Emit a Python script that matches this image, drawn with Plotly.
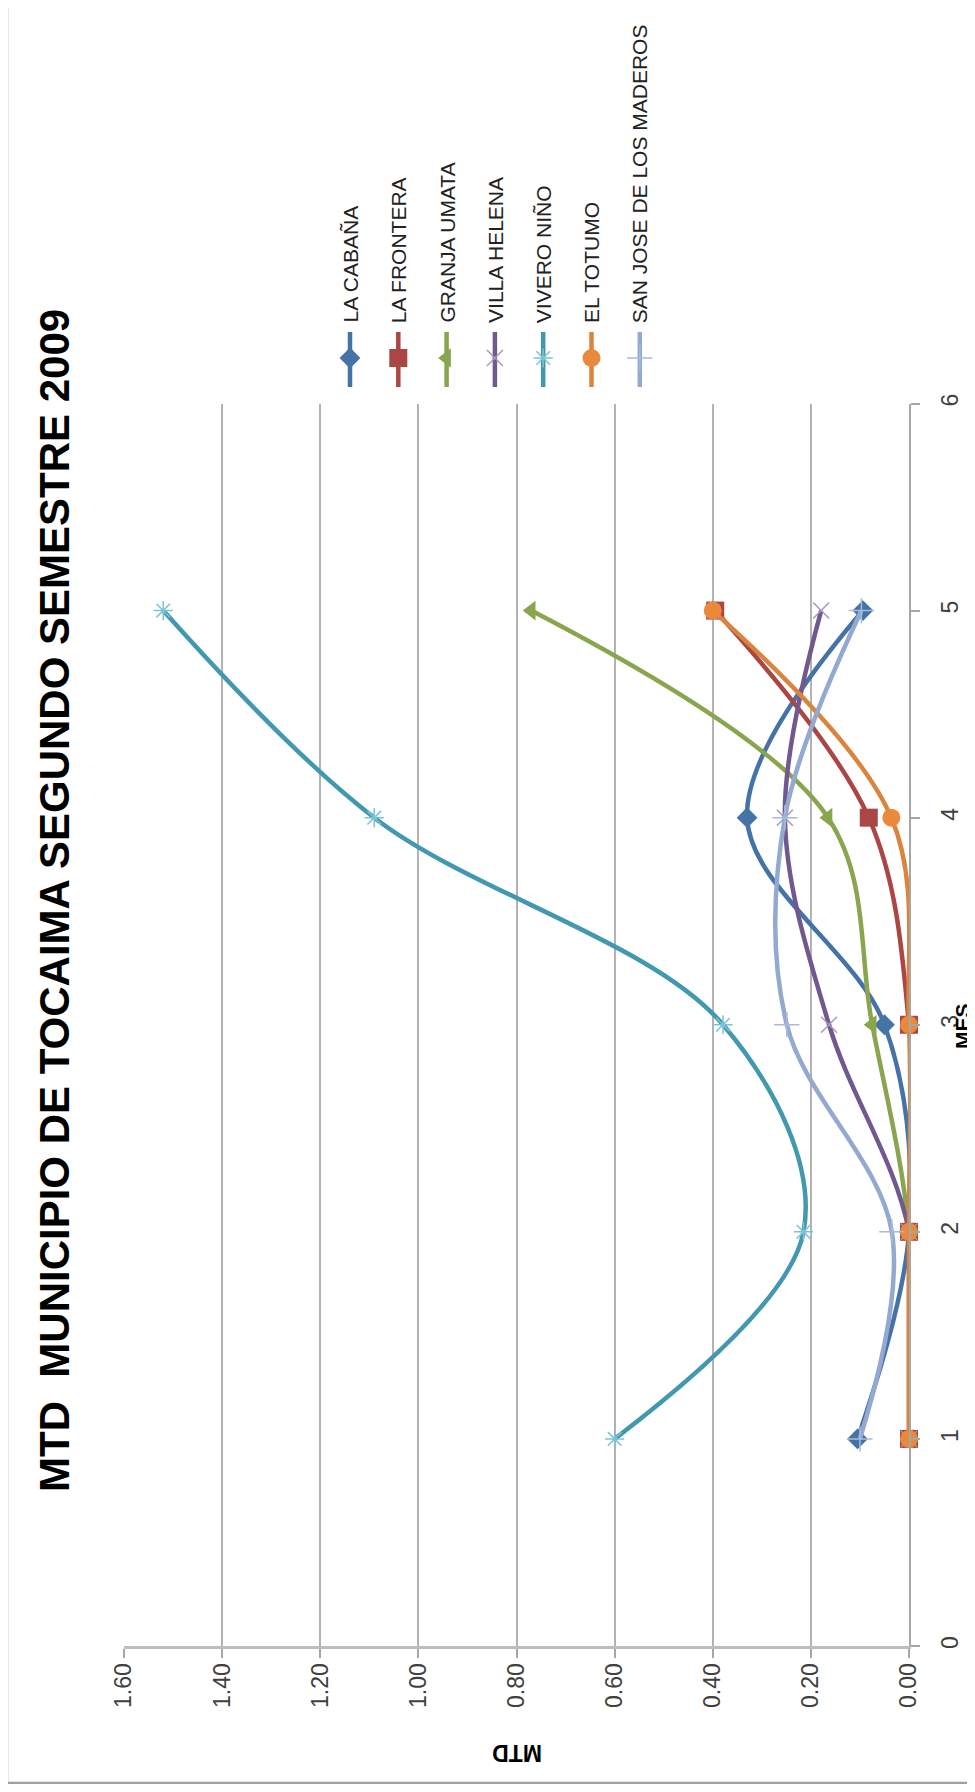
import plotly.graph_objects as go

# ---------------- data ----------------
MES = [1, 2, 3, 4, 5]
SERIES = ["LA CABAÑA", "LA FRONTERA", "GRANJA UMATA", "VILLA HELENA",
          "VIVERO NIÑO", "EL TOTUMO", "SAN JOSE DE LOS MADEROS"]
LA_CABANA = [0.105, 0.0, 0.05, 0.33, 0.094]
LA_FRONTERA = [0.0, 0.0, 0.0, 0.082, 0.395]
GRANJA_UMATA = [0.0, 0.0, 0.075, 0.165, 0.77]
VILLA_HELENA = [0.0, 0.0, 0.163, 0.253, 0.179]
VIVERO_NINO = [0.60, 0.215, 0.379, 1.09, 1.52]
EL_TOTUMO = [0.0, 0.0, 0.0, 0.036, 0.40]
SAN_JOSE = [0.10, 0.035, 0.249, 0.253, 0.097]
VALUES = [LA_CABANA, LA_FRONTERA, GRANJA_UMATA, VILLA_HELENA, VIVERO_NINO, EL_TOTUMO, SAN_JOSE]
MTD_TICKS = [0.0, 0.2, 0.4, 0.6, 0.8, 1.0, 1.2, 1.4, 1.6]
MES_TICKS = [0, 1, 2, 3, 4, 5, 6]
TITLE = "MTD  MUNICIPIO DE TOCAIMA SEGUNDO SEMESTRE 2009"

# ---------------- styles ----------------
LINE_COLORS = ["#4572A7", "#AA4643", "#89A54E", "#71588F", "#4198AF", "#DB843D", "#93A9CF"]
MARKERS = [
    dict(symbol="diamond", size=16, color="#4572A7"),
    dict(symbol="square", size=18, color="#AA4643"),
    dict(symbol="triangle-left", size=17, color="#89A54E"),
    dict(symbol="x-thin-open", size=16, color="#A897C4", line=dict(width=1.5, color="#A897C4")),
    dict(symbol="asterisk-open", size=16, color="#7CC3D6", line=dict(width=1.5, color="#7CC3D6")),
    dict(symbol="circle", size=18, color="#E8893C"),
    dict(symbol="cross-thin-open", size=18, color="#A6BADB", line=dict(width=1.5, color="#A6BADB")),
]

# page geometry (the page body has an 8px default margin)
PAGE_W, PAGE_H = 975, 1792
OFF = 8
FW, FH = PAGE_W - OFF, PAGE_H - 2 * OFF
PLOT_L, PLOT_R, PLOT_T, PLOT_B = 124, 909, 403.5, 1646
FONT = "Liberation Sans, Arial, sans-serif"
X_RANGE = [1.6, 0.0]
Y_RANGE = [0.0, 6.0]

x_dom = [(PLOT_L - OFF) / FW, (PLOT_R - OFF) / FW]
y_dom = [(FH - (PLOT_B - OFF)) / FH, (FH - (PLOT_T - OFF)) / FH]

fig = go.Figure()

for name, vals, col, mk in zip(SERIES, VALUES, LINE_COLORS, MARKERS):
    fig.add_trace(go.Scatter(
        x=vals, y=MES, mode="lines+markers", name=name,
        line=dict(color=col, width=4.5, shape="spline", smoothing=1.0),
        marker=mk, cliponaxis=False, showlegend=False))

# ---------------- custom rotated legend (page-pixel overlay subplot) ----------------
LEG_X0, LEG_DX = 350, 48.3
LEG_Y_TOP, LEG_Y_BOT, LEG_Y_MK, LEG_Y_TXT = 332, 387, 358, 325
annotations = []
for i, (name, col, mk) in enumerate(zip(SERIES, LINE_COLORS, MARKERS)):
    lx = LEG_X0 + i * LEG_DX
    fig.add_trace(go.Scatter(
        x=[lx, lx], y=[LEG_Y_TOP, LEG_Y_BOT], xaxis="x2", yaxis="y2", mode="lines",
        line=dict(color=col, width=4.5), showlegend=False, hoverinfo="skip"))
    fig.add_trace(go.Scatter(
        x=[lx], y=[LEG_Y_MK], xaxis="x2", yaxis="y2",
        mode="markers", marker=mk, showlegend=False, hoverinfo="skip"))
    annotations.append(dict(text=name, xref="x2", yref="y2",
                            x=lx, y=LEG_Y_TXT, xanchor="center", yanchor="bottom",
                            textangle=-90, showarrow=False,
                            font=dict(family=FONT, size=21, color="#222222")))

# title and axis titles
annotations.append(dict(text=TITLE, xref="x2", yref="y2",
                        x=54, y=901, xanchor="center", yanchor="middle",
                        textangle=-90, showarrow=False,
                        font=dict(family=FONT, size=42, color="#000000", weight="bold")))
annotations.append(dict(text="MTD", xref="x2", yref="y2",
                        x=517, y=1753, xanchor="center", yanchor="middle",
                        textangle=180, showarrow=False,
                        font=dict(family=FONT, size=23, color="#000000", weight="bold")))
annotations.append(dict(text="MES", xref="x2", yref="y2",
                        x=962, y=1026, xanchor="center", yanchor="middle",
                        textangle=-90, showarrow=False,
                        font=dict(family=FONT, size=21, color="#000000", weight="bold")))

# outer border (left & bottom edges visible)
shapes = [dict(type="rect", xref="x2", yref="y2",
               x0=7, x1=PAGE_W + 40, y0=1783, y1=-40,
               line=dict(color="#A0A0A0", width=2.5), layer="below")]

fig.update_layout(
    width=FW, height=FH,
    margin=dict(l=0, r=0, t=0, b=0, autoexpand=False),
    paper_bgcolor="white", plot_bgcolor="rgba(0,0,0,0)",
    showlegend=False,
    shapes=shapes, annotations=annotations,
    xaxis=dict(domain=x_dom, range=X_RANGE, tickvals=MTD_TICKS, automargin=False,
               anchor="y",
               ticktext=[f"{v:.2f}" for v in MTD_TICKS],
               tickangle=-90, ticks="outside", ticklen=9, tickcolor="#A6A6A6", tickwidth=1.5,
               showgrid=True, gridcolor="#B3B3B3", gridwidth=1.5,
               showline=True, linecolor="#BDBDBD", linewidth=3, zeroline=False,
               tickfont=dict(family=FONT, size=23, color="#404040"),
               ticklabelstandoff=-4),
    yaxis=dict(domain=y_dom, range=Y_RANGE, tickvals=MES_TICKS, side="right", automargin=False,
               anchor="x",
               tickangle=-90, ticks="outside", ticklen=9, tickcolor="#A6A6A6", tickwidth=1.5,
               showgrid=False, showline=True, linecolor="#A6A6A6", linewidth=1.5,
               zeroline=False, tickfont=dict(family=FONT, size=23, color="#404040"),
               ticklabelstandoff=11),
    xaxis2=dict(domain=[0, 1], range=[OFF, PAGE_W], anchor="y2", visible=False,
                fixedrange=True),
    yaxis2=dict(domain=[0, 1], range=[PAGE_H - OFF, OFF], anchor="x2", visible=False,
                fixedrange=True),
)

fig.write_html("out.html")
